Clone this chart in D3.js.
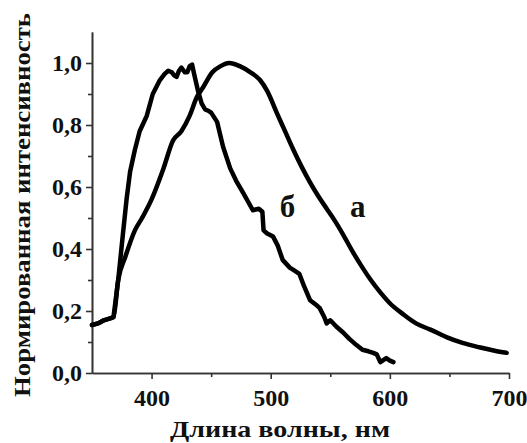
<!doctype html>
<html lang="ru">
<head>
<meta charset="UTF-8" />
<script src="https://d3js.org/d3.v7.min.js"></script>
<style>
  body { margin: 0; background: #fff; }
</style>
</head>
<body>
<svg id="chart" width="527" height="443"></svg>
<script>
// curve "a"
const waveA = [350, 355, 360, 368, 372, 378, 386, 392, 400, 410, 418, 425, 432, 438, 443, 451, 458, 465, 474, 483, 491, 497, 505, 512, 519, 526, 533, 540, 547, 554, 561, 569, 577, 584, 592, 600, 611, 622, 634, 648, 661, 675, 688, 698];
const intA = [0.155, 0.16, 0.17, 0.18, 0.3, 0.375, 0.46, 0.5, 0.56, 0.66, 0.75, 0.78, 0.83, 0.89, 0.92, 0.97, 0.99, 1.0, 0.99, 0.97, 0.945, 0.91, 0.84, 0.78, 0.72, 0.665, 0.615, 0.57, 0.53, 0.49, 0.445, 0.39, 0.34, 0.3, 0.26, 0.225, 0.19, 0.16, 0.14, 0.115, 0.097, 0.083, 0.072, 0.065];

// curve "б"
const waveB = [350, 355, 360, 368, 372, 376, 379, 382, 386, 390, 396, 401, 407, 411, 414, 417, 419, 421, 423, 425, 428, 430, 432, 434, 436, 439, 442, 445, 448, 450, 455, 460, 466, 471, 477, 485, 490, 493, 494, 497, 502, 506, 510, 516, 520, 524, 528, 533, 538, 541, 545, 547, 550, 555, 561, 566, 572, 577, 582, 586, 589, 592, 597, 600, 603];
const intB = [0.155, 0.16, 0.17, 0.18, 0.3, 0.45, 0.56, 0.65, 0.72, 0.78, 0.83, 0.9, 0.945, 0.965, 0.975, 0.97, 0.96, 0.955, 0.975, 0.985, 0.97, 0.97, 0.99, 0.995, 0.96, 0.91, 0.87, 0.85, 0.845, 0.84, 0.81, 0.73, 0.66, 0.62, 0.58, 0.525, 0.53, 0.52, 0.46, 0.45, 0.44, 0.41, 0.365, 0.34, 0.33, 0.32, 0.28, 0.235, 0.22, 0.21, 0.18, 0.16, 0.17, 0.15, 0.13, 0.11, 0.09, 0.075, 0.07, 0.065, 0.06, 0.035, 0.048, 0.04, 0.035];

const xTicks = [400, 500, 600, 700];
const xMinor = [450, 550, 650];
const yTicks = [0, 0.2, 0.4, 0.6, 0.8, 1.0];
const yMinor = [0.1, 0.3, 0.5, 0.7, 0.9];

const FONT = "'Liberation Serif', 'Times New Roman', serif";

const svg = d3.select("#chart");
const x = d3.scaleLinear().domain([350, 700]).range([92, 509]);
const y = d3.scaleLinear().domain([0, 1.1]).range([373, 32]);

const fmt = (d) => d.toFixed(1).replace(".", ",");

// x axis
const gx = svg.append("g").attr("transform", `translate(0,${y(0)})`);
gx.call(d3.axisBottom(x).tickValues(xTicks).tickSize(6).tickSizeOuter(0).tickFormat(d3.format("d")));
gx.append("g").call(d3.axisBottom(x).tickValues(xMinor).tickSize(4).tickSizeOuter(0).tickFormat(""));
gx.selectAll(".domain").attr("stroke", "#333").attr("stroke-width", 1.6);
gx.selectAll("line").attr("stroke", "#333").attr("stroke-width", 1.6);
gx.selectAll("text").attr("font-size", 24).attr("dy", "0.98em");

// y axis
const gy = svg.append("g").attr("transform", `translate(${x(350)},0)`);
gy.call(d3.axisLeft(y).tickValues(yTicks).tickSize(6).tickSizeOuter(0).tickFormat(fmt));
gy.append("g").call(d3.axisLeft(y).tickValues(yMinor).tickSize(4).tickSizeOuter(0).tickFormat(""));
gy.selectAll(".domain").attr("stroke", "#333").attr("stroke-width", 1.6);
gy.selectAll("line").attr("stroke", "#333").attr("stroke-width", 1.6);
gy.selectAll("text").attr("font-size", 24).attr("x", -10).attr("dy", "0.33em");

// curves
const lineA = d3.line().x((d) => x(d[0])).y((d) => y(d[1])).curve(d3.curveMonotoneX);
const lineB = d3.line().x((d) => x(d[0])).y((d) => y(d[1]));
svg.append("path")
  .datum(d3.zip(waveA, intA))
  .attr("fill", "none").attr("stroke", "#000").attr("stroke-width", 4.5)
  .attr("stroke-linejoin", "round").attr("stroke-linecap", "round")
  .attr("d", lineA);
svg.append("path")
  .datum(d3.zip(waveB, intB))
  .attr("fill", "none").attr("stroke", "#000").attr("stroke-width", 4.5)
  .attr("stroke-linejoin", "round").attr("stroke-linecap", "round")
  .attr("d", lineB);

// curve labels
svg.append("text").attr("x", x(514)).attr("y", y(0.503)).attr("font-size", 31).attr("text-anchor", "middle").text("б");
svg.append("text").attr("x", x(573)).attr("y", y(0.503)).attr("font-size", 31).attr("text-anchor", "middle").text("а");

// axis titles
svg.append("text")
  .attr("x", 280).attr("y", 437).attr("font-size", 24).attr("text-anchor", "middle")
  .attr("textLength", 220).attr("lengthAdjust", "spacingAndGlyphs")
  .text("Длина волны, нм");
svg.append("text")
  .attr("transform", "translate(30,205) rotate(-90)")
  .attr("font-size", 24).attr("text-anchor", "middle")
  .attr("textLength", 384).attr("lengthAdjust", "spacingAndGlyphs")
  .text("Нормированная интенсивность");

svg.selectAll("text")
  .attr("font-family", FONT)
  .attr("font-weight", "bold")
  .attr("fill", "#111");
</script>
</body>
</html>
